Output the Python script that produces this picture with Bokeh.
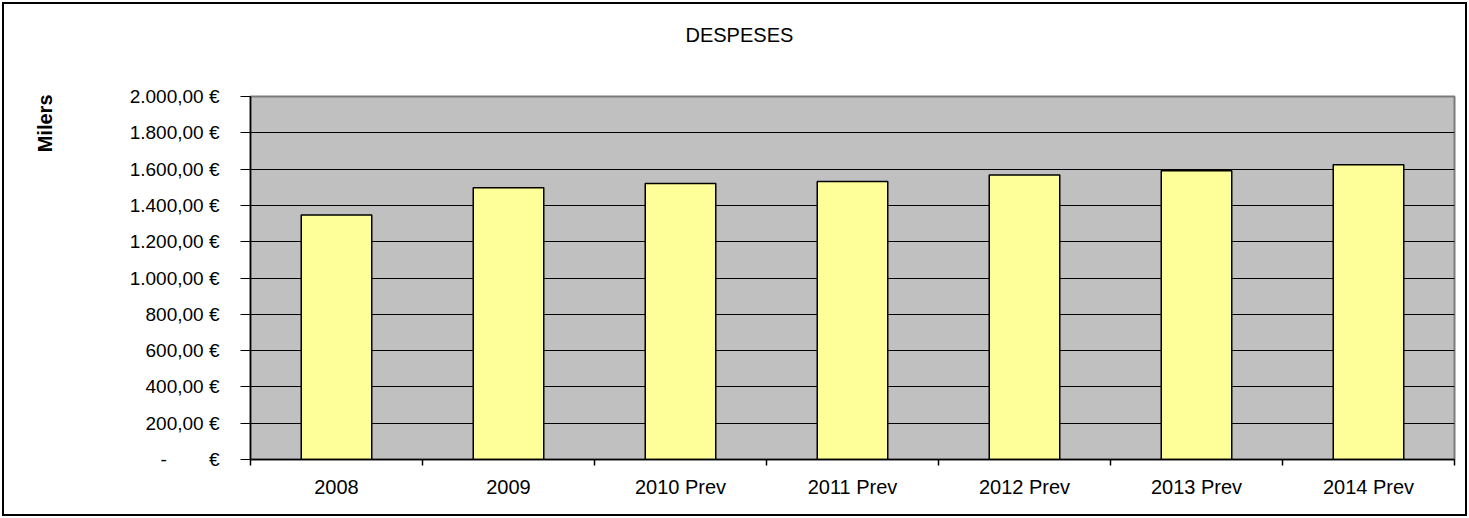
from bokeh.plotting import figure
from bokeh.models import Range1d, FixedTicker, Title
from bokeh.embed import file_html
from bokeh.resources import INLINE

# ---- data ----
categories = ["2008", "2009", "2010 Prev", "2011 Prev", "2012 Prev", "2013 Prev", "2014 Prev"]
despeses = [1347, 1497, 1521, 1532, 1567, 1591, 1624]
y_ticks = [0, 200, 400, 600, 800, 1000, 1200, 1400, 1600, 1800, 2000]
title_text = "DESPESES"
y_label_text = "Milers"

FONT = "Liberation Sans"


def euro(v):
    if v == 0:
        return "-" + "\u00a0" * 8 + "€"
    s = f"{v:,.2f}"
    s = s.replace(",", "X").replace(".", ",").replace("X", ".")
    return s + " €"


xs = [i + 0.5 for i in range(len(categories))]

p = figure(width=1469, height=518, output_backend="svg", toolbar_location=None,
           x_range=Range1d(0, len(categories)), y_range=Range1d(0, 2000),
           title=None)

p.min_border_left = 250
p.min_border_right = 15
p.min_border_top = 96
p.min_border_bottom = 59

p.background_fill_color = "#C0C0C0"
p.border_fill_color = "white"
p.outline_line_color = "#7a7a7a"
p.outline_line_width = 2

# outer chart border (drawn by CSS on top of the canvas)
p.stylesheets = [
    ":host::after { content: ''; position: absolute; left: 2px; top: 2px; "
    "width: 1461px; height: 510px; border: 2.5px solid black; "
    "pointer-events: none; z-index: 1000; }"
]

p.vbar(x=xs, top=despeses, width=0.41, fill_color="#FFFF99", line_color="black", line_width=1.5)

# grid
p.xgrid.visible = False
p.ygrid.ticker = FixedTicker(ticks=y_ticks)
p.ygrid.grid_line_color = "black"
p.ygrid.grid_line_width = 1

# y axis
ya = p.yaxis[0]
ya.ticker = FixedTicker(ticks=y_ticks, minor_ticks=[])
ya.major_label_overrides = {t: euro(t) for t in y_ticks}
ya.axis_line_color = "black"
ya.axis_line_width = 1.5
ya.major_tick_line_color = "black"
ya.major_tick_out = 10
ya.major_tick_in = 0
ya.major_label_standoff = 21
ya.major_label_text_font = FONT
ya.major_label_text_font_size = "19px"
ya.major_label_text_color = "black"

# x axis: labels at centers, ticks at category boundaries
xa = p.xaxis[0]
xa.ticker = FixedTicker(ticks=xs, minor_ticks=list(range(len(categories) + 1)))
xa.major_label_overrides = {x: c for x, c in zip(xs, categories)}
xa.axis_line_color = "black"
xa.axis_line_width = 1.5
xa.major_tick_out = 0
xa.major_tick_in = 0
xa.minor_tick_out = 6
xa.minor_tick_in = 0
xa.minor_tick_line_color = "black"
xa.minor_tick_line_width = 1.5
xa.major_label_standoff = 10
xa.major_label_text_font = FONT
xa.major_label_text_font_size = "20px"
xa.major_label_text_color = "black"

# spacers so the texts sit where the reference has them
p.add_layout(Title(text=" ", text_font_size="1px", standoff=48), "above")
p.add_layout(Title(text=title_text, align="left", offset=435, standoff=0,
                   text_font=FONT, text_font_size="20px", text_font_style="normal",
                   text_color="black"), "above")
p.add_layout(Title(text=" ", text_font_size="1px", standoff=68), "left")
p.add_layout(Title(text=y_label_text, align="right", offset=-2, standoff=0,
                   text_font=FONT, text_font_size="20px", text_font_style="bold",
                   text_color="black"), "left")

open("out.html", "w").write(file_html(p, INLINE))
